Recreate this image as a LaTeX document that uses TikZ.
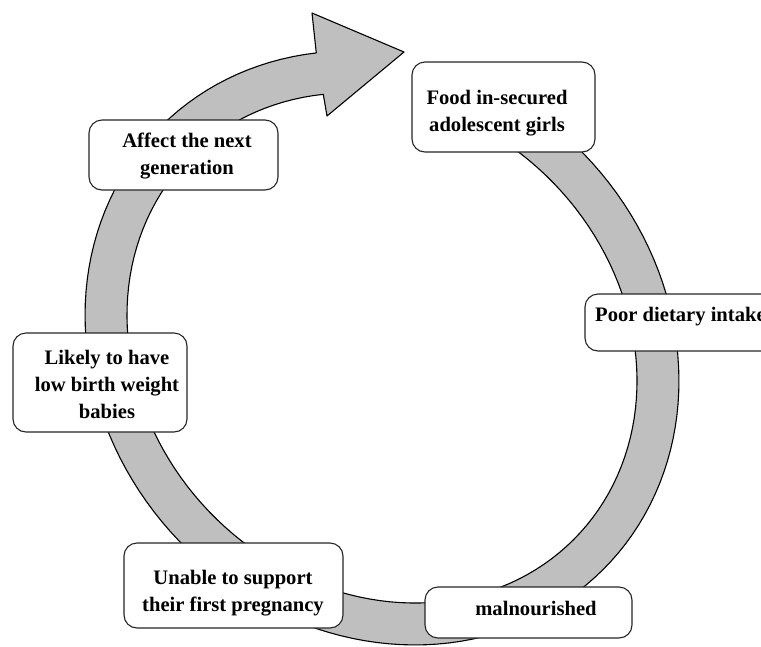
\documentclass[tikz,border=0pt]{standalone}
\usepackage{fontspec}
\setmainfont{Liberation Serif}
\definecolor{ringgray}{RGB}{191,191,191}
\begin{document}
\begin{tikzpicture}[x=1pt,y=-1pt,
  box/.style={draw=black!85, line width=1.1pt, fill=white, rounded corners=13pt, inner sep=0pt},
  lbl/.style={font=\fontsize{20.6}{27}\selectfont\bfseries, align=center, inner sep=0pt},
  ring/.style={fill=ringgray, draw=black, line width=1.1pt, line join=round}]
\clip (0,0) rectangle (761,646);
\fill[white] (0,0) rectangle (761,646);
% circular arrow band
\path[ring]
  plot[domain=110:-215.4, samples=140, variable=\t]
    ({382+(313*cos(\t)+280*sin(\t))/1.41421}, {348+(313*cos(\t)-280*sin(\t))/1.41421})
  -- (312,13) -- (404,52) -- (327,116)
  -- plot[domain=-215.4:110, samples=140, variable=\t]
    ({382+(271*cos(\t)+238*sin(\t))/1.41421}, {348+(271*cos(\t)-238*sin(\t))/1.41421})
  -- cycle;
% boxes
\node[box, minimum width=183pt, minimum height=90pt] (foodbox) at (503.5,107) {};
\node[box, minimum width=215pt, minimum height=57pt] (poorbox) at (692.5,322.5) {};
\node[box, minimum width=207pt, minimum height=51pt] (malbox) at (528.5,612.5) {};
\node[box, minimum width=219pt, minimum height=85pt] (unablebox) at (233.5,585.5) {};
\node[box, minimum width=174pt, minimum height=99pt] (likelybox) at (100,382.5) {};
\node[box, minimum width=189pt, minimum height=70pt] (affectbox) at (183.5,155) {};
% texts
\node[lbl] (foodtxt) at (497,113.5) {Food in-secured\\adolescent girls};
\node[lbl, anchor=west] (poortxt) at (595,317) {Poor dietary intake};
\node[lbl] (maltxt) at (536,608) {malnourished};
\node[lbl] (unabletxt) at (233,593.5) {Unable to support\\their first pregnancy};
\node[lbl] (likelytxt) at (107,384) {Likely to have\\low birth weight\\babies};
\node[lbl] (affecttxt) at (187,156.5) {Affect the next\\generation};
\end{tikzpicture}
\end{document}
